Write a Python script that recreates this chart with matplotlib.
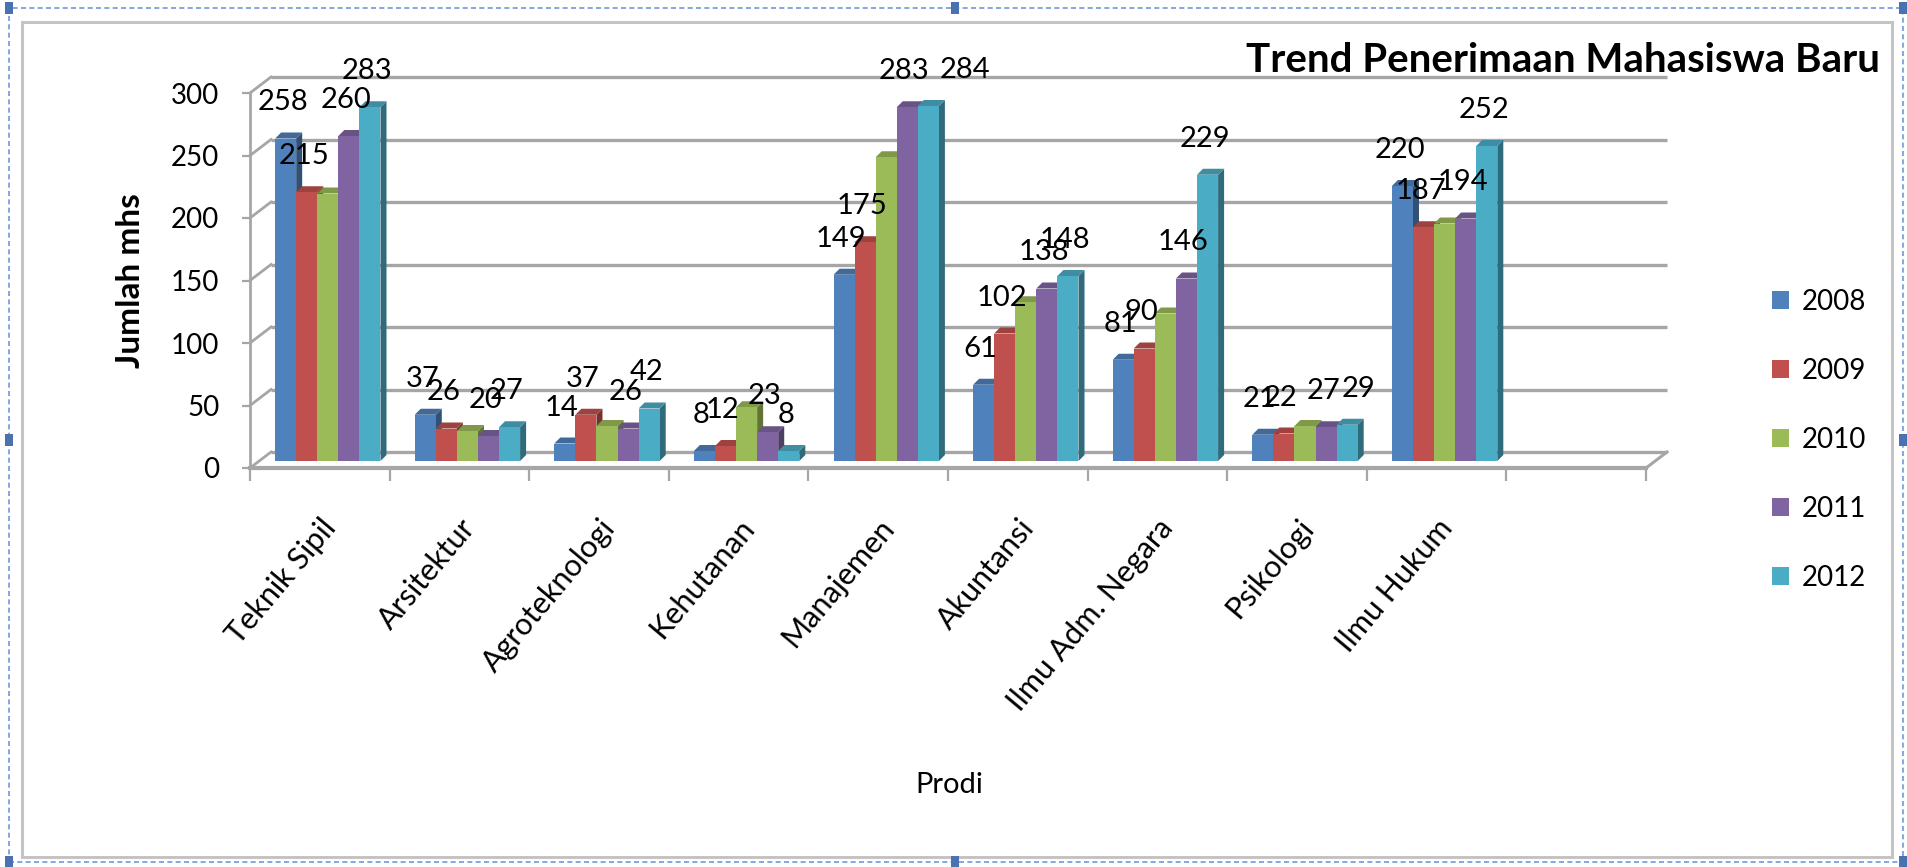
import matplotlib
matplotlib.use('Agg')
import matplotlib.pyplot as plt
from matplotlib.patches import Polygon, Rectangle, Patch
from matplotlib.transforms import offset_copy
from matplotlib.colors import to_rgb
import numpy as np

categories = ["Teknik Sipil", "Arsitektur", "Agroteknologi", "Kehutanan", "Manajemen",
              "Akuntansi", "Ilmu Adm. Negara", "Psikologi", "Ilmu Hukum"]
years = ["2008", "2009", "2010", "2011", "2012"]
v2008 = [258, 37, 14, 8, 149, 61, 81, 21, 220]
v2009 = [215, 26, 37, 12, 175, 102, 90, 22, 187]
v2010 = [214, 24, 28, 43, 243, 127, 118, 28, 190]
v2011 = [260, 20, 26, 23, 283, 138, 146, 27, 194]
v2012 = [283, 27, 42, 8, 284, 148, 229, 29, 252]
series = [v2008, v2009, v2010, v2011, v2012]
labelled = [True, True, False, True, True]
colors = ['#4F81BD', '#C0504D', '#9BBB59', '#8064A2', '#4BACC6']
yticks = [0, 50, 100, 150, 200, 250, 300]
title = "Trend Penerimaan Mahasiswa Baru"
ylabel = "Jumlah mhs"
xlabel = "Prodi"
n_slots = 10  # Excel axis holds one empty category slot at the end
# label nudges (pixels) where the reference moved a label aside: (series, category) -> dx
label_nudge = {(4, 4): 40, (4, 7): 14}

plt.rcParams['font.family'] = ['Lato', 'DejaVu Sans']

W, H = 1908, 867
fig = plt.figure(figsize=(W / 100, H / 100), dpi=100)
fig.patch.set_facecolor('white')

x0, x1 = 250, 1646      # front axis pixel span
y0, y1 = 468, 93        # pixel rows of 0 and 300
ymax = 300
ax = fig.add_axes([x0 / W, (H - y0) / H, (x1 - x0) / W, (y0 - y1) / H])
ax.set_xlim(0, n_slots)
ax.set_ylim(0, ymax)
ax.patch.set_alpha(0)
dpx = n_slots / (x1 - x0)   # data units per pixel (x)
dpy = ymax / (y0 - y1)      # data units per pixel (y)

grid_c = '#a6a6a6'
bxd, byd = 21 * dpx, 16 * dpy
for v in yticks:
    ax.plot([bxd, n_slots + bxd], [v + byd, v + byd], color=grid_c, lw=2.4,
            zorder=1, clip_on=False, solid_capstyle='butt')
    ax.plot([0, bxd], [v, v + byd], color=grid_c, lw=2.0, zorder=1, clip_on=False)
ax.plot([n_slots, n_slots + bxd], [0, byd], color=grid_c, lw=2.2, zorder=1, clip_on=False)

for s in ['top', 'right']:
    ax.spines[s].set_visible(False)
ax.spines['left'].set_color(grid_c)
ax.spines['left'].set_linewidth(2.0)
ax.spines['bottom'].set_color(grid_c)
ax.spines['bottom'].set_linewidth(3.0)
ax.set_yticks(yticks)
ax.set_yticklabels([str(v) for v in yticks])
ax.tick_params(axis='y', length=6, width=1.6, color=grid_c, pad=16, labelsize=20)
ax.set_xticks(range(n_slots + 1))
ax.set_xticklabels([''] * (n_slots + 1))
ax.tick_params(axis='x', length=9, width=1.6, color=grid_c, direction='out')

nser = len(series)
w = 0.151
bar_tr = offset_copy(ax.transData, fig=fig, x=8, y=7, units='dots')
ddx, ddy = 6 * dpx, 6 * dpy
xc_base = np.arange(len(categories)) + 0.5
for j, vals in enumerate(series):
    base = np.array(to_rgb(colors[j]))
    side = tuple(base * 0.62)
    top = tuple(base * 0.82)
    xs = xc_base + (j - (nser - 1) / 2) * w
    z = 3 + 2 * j
    for xc, v in zip(xs, vals):
        l, r = xc - w / 2, xc + w / 2
        ax.add_patch(Polygon([[r, 0], [r + ddx, ddy], [r + ddx, v + ddy], [r, v]],
                             closed=True, facecolor=side, edgecolor='none',
                             transform=bar_tr, zorder=z, clip_on=False))
        ax.add_patch(Polygon([[l, v], [r, v], [r + ddx, v + ddy], [l + ddx, v + ddy]],
                             closed=True, facecolor=top, edgecolor='none',
                             transform=bar_tr, zorder=z, clip_on=False))
    ax.bar(xs, vals, width=w, color=colors[j], transform=bar_tr, zorder=z + 1,
           clip_on=False, linewidth=0)
    if labelled[j]:
        for i, (xc, v) in enumerate(zip(xs, vals)):
            ndx = label_nudge.get((j, i), 0)
            ax.annotate(str(v), xy=(xc, v), xytext=(5 + ndx, 43), textcoords='offset pixels',
                        ha='center', va='center', fontsize=21, color='black',
                        zorder=20, annotation_clip=False)

for i, c in enumerate(categories):
    ax.annotate(c, xy=(i + 0.5, 0), xytext=(0, -46), textcoords='offset pixels',
                rotation=50, ha='right', va='top', rotation_mode='anchor',
                fontsize=22, color='black', annotation_clip=False)

ax.set_xlim(0, n_slots)
ax.set_ylim(0, ymax)

fig.text(1880 / W, 1 - 61 / H, title, ha='right', va='center', fontsize=29,
         fontweight='bold', color='black')
fig.text(131 / W, 1 - 281 / H, ylabel, rotation=90, ha='center', va='center',
         fontsize=24, fontweight='bold', color='black')
fig.text(949 / W, 1 - 785 / H, xlabel, ha='center', va='center', fontsize=21,
         color='black')

handles = [Patch(facecolor=c, edgecolor='none') for c in colors]
fig.legend(handles, years, loc='center left', bbox_to_anchor=(1772 / W, 1 - 440 / H),
           frameon=False, fontsize=20, handlelength=0.62, handleheight=0.62,
           handletextpad=0.45, labelspacing=1.55, borderpad=0, borderaxespad=0)

fig.add_artist(Rectangle((22 / W, 10 / H), (1892 - 22) / W, (857 - 22) / H,
                         transform=fig.transFigure, facecolor='none',
                         edgecolor='#c4c4c4', lw=2.2))
fig.add_artist(Rectangle((9 / W, 5 / H), (1903 - 9) / W, (862 - 8) / H,
                         transform=fig.transFigure, facecolor='none',
                         edgecolor='#6f9ad8', lw=1.2, linestyle=(0, (3, 2))))
for hx, hy in [(9, 8), (955, 8), (1903, 8), (9, 440), (1903, 440),
               (9, 862), (955, 862), (1903, 862)]:
    fig.add_artist(Rectangle(((hx - 4) / W, 1 - (hy + 6) / H), 8 / W, 12 / H,
                             transform=fig.transFigure, facecolor='#4a72b0',
                             edgecolor='none'))

fig.savefig('out.png', dpi=100, facecolor='white')
